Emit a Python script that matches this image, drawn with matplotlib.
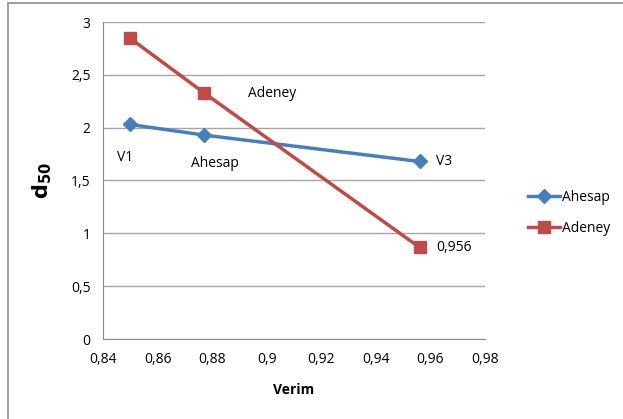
import matplotlib
matplotlib.use('Agg')
import matplotlib.pyplot as plt
from matplotlib.ticker import FuncFormatter
from matplotlib.patches import Rectangle

plt.rcParams['font.family'] = ['Open Sans', 'DejaVu Sans']

# Verim değerleri ve d50 serileri
verim = [0.85, 0.877, 0.956]
ahesap = [2.03, 1.93, 1.68]
adeney = [2.845, 2.33, 0.867]

x_ticks = [0.84, 0.86, 0.88, 0.90, 0.92, 0.94, 0.96, 0.98]
y_ticks = [0, 0.5, 1, 1.5, 2, 2.5, 3]

blue = '#4a7ebb'
red = '#be4b48'

fig = plt.figure(figsize=(6.23, 4.19), dpi=100)
ax = fig.add_axes([103 / 623, 1 - 339 / 419, 382 / 623, 317 / 419])

# Dış çerçeve
fig.patches.append(Rectangle((8 / 623, -0.01), 1.0, 1 - 3 / 419 + 0.01,
                             transform=fig.transFigure, fill=False,
                             edgecolor='#8c8c8c', lw=1.2))

ax.plot(verim, ahesap, color=blue, lw=2.5, marker='D', ms=7.5,
        markeredgecolor=blue, label='Ahesap', zorder=3)
ax.plot(verim, adeney, color=red, lw=2.5, marker='s', ms=9,
        markeredgecolor=red, label='Adeney', zorder=3)

ax.set_xlim(0.84, 0.98)
ax.set_ylim(0, 3)
ax.set_xticks(x_ticks)
ax.set_yticks(y_ticks)


def virgul(v, pos=None, nd=2):
    s = f'{v:.{nd}f}'.rstrip('0').rstrip('.')
    return s.replace('.', ',')


ax.xaxis.set_major_formatter(FuncFormatter(virgul))
ax.yaxis.set_major_formatter(FuncFormatter(virgul))
ax.tick_params(length=0, labelsize=10, pad=9, colors='#000000')
ax.grid(axis='y', color='#a6a6a6', lw=1)
ax.set_axisbelow(True)
for side in ['top', 'right']:
    ax.spines[side].set_visible(False)
for side in ['left', 'bottom']:
    ax.spines[side].set_color('#8c8c8c')

ax.set_xlabel('Verim', fontsize=10, fontweight='bold', labelpad=12)
ax.set_ylabel(r'$\mathbf{d}_{\mathbf{50}}$', fontsize=15, labelpad=12)

# Nokta etiketleri
ax.text(verim[0] - 0.002, ahesap[0] - 0.31, 'V1', fontsize=10, ha='center', va='center')
ax.text(verim[1] + 0.004, ahesap[1] - 0.27, 'Ahesap', fontsize=10, ha='center', va='center')
ax.text(verim[1] + 0.025, adeney[1] - 0.01, 'Adeney', fontsize=10, ha='center', va='center')
ax.text(verim[2] + 0.006, ahesap[2], 'V3', fontsize=10, ha='left', va='center')
ax.text(verim[2] + 0.006, adeney[2], virgul(verim[2], nd=3), fontsize=10,
        ha='left', va='center')

fig.legend(loc='upper left', bbox_to_anchor=(522 / 623, 1 - 184 / 419),
           frameon=False, fontsize=10, handlelength=2.3, handletextpad=0.2,
           labelspacing=1.2, borderaxespad=0)

fig.savefig('out.png', dpi=100)
